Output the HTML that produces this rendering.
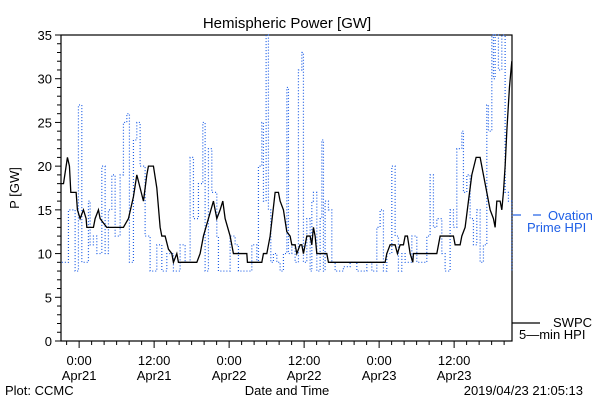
<!DOCTYPE html>
<html><head><meta charset="utf-8"><style>
html,body{margin:0;padding:0;background:#fff}
svg{display:block;font-family:"Liberation Sans",sans-serif}
</style></head><body>
<svg id="chart" width="600" height="400" viewBox="0 0 600 400">
<text x="287" y="28" text-anchor="middle" font-size="15" fill="#000">Hemispheric Power [GW]</text>
<g id="axes"></g>
<g id="series"></g>
<text transform="translate(19,188) rotate(-90)" text-anchor="middle" font-size="13">P [GW]</text>
<text x="287" y="395" text-anchor="middle" font-size="13">Date and Time</text>
<text x="5" y="395" font-size="13">Plot: CCMC</text>
<text x="583" y="395" text-anchor="end" font-size="13">2019/04/23 21:05:13</text>
<g>
<line x1="513" y1="215" x2="521" y2="215" stroke="#1e5fe6" stroke-width="1.2"/>
<line x1="533" y1="215" x2="541" y2="215" stroke="#1e5fe6" stroke-width="1.2"/>
<text x="548" y="220" font-size="13" fill="#1e5fe6">Ovation</text>
<text x="527" y="232" font-size="13" fill="#1e5fe6">Prime HPI</text>
</g>
<g>
<line x1="512" y1="323" x2="540" y2="323" stroke="#000" stroke-width="1.2"/>
<text x="553" y="327" font-size="13">SWPC</text>
<text x="519" y="339" font-size="13">5—min HPI</text>
</g>
</svg>
<script>
const swpcHours=[-2.93,-2.5,-2.08,-1.87,-1.55,-1.33,-0.48,-0.27,0.16,0.69,1.12,1.23,2.29,2.56,3.09,3.36,3.89,4.43,7.09,7.89,8.69,9.23,9.76,10.29,10.83,11.09,11.89,12.43,12.96,13.23,13.76,14.29,14.83,15.09,15.63,15.89,18.83,19.36,19.89,20.69,21.49,22.03,22.56,22.99,23.36,24.16,24.69,26.83,26.93,29.23,29.49,30.03,30.56,31.36,31.89,32.16,32.69,33.23,33.76,34.03,34.56,34.83,35.36,35.63,35.89,36.43,36.96,37.23,37.49,37.76,38.03,38.29,39.63,39.89,48.96,49.23,49.76,50.56,50.93,51.36,51.89,52.16,52.53,52.96,53.39,53.49,57.23,57.76,59.89,60.16,60.96,61.23,61.76,62.29,62.83,63.52,64.16,64.69,65.23,65.76,66.29,66.56,66.83,67.36,67.63,67.89,68.16,68.43,68.85,69.23];
const swpcValues=[18,18,20,21,20,17,17,15,14,15,14,13,13,14,15,14,13.5,13,13,14,16.5,19,17.5,16,19,20,20,17.5,13,12,12,10.5,10,9,10,9,9,10,12,14,16,14,15,16,14,12,10,10,9,9,10,10,12,17,17,16,15,12.5,12,11,11,10,11,11,10,12,12,11,13,12,10,10,10,9,9,10,11,11,10,11,11,12,12,10,9,10,10,12,12,11,11,12,13,16,19,21,21,19,17,15,14,13,16,16,15,17,20,24,29,32];
const ovationHours=[-2.77,-1.71,-0.64,-0.11,0.43,1.49,1.76,2.29,2.83,3.63,4.16,4.69,5.23,5.76,6.56,7.09,7.63,8.05,8.69,9.23,9.76,10.56,11.36,12.16,12.43,13.23,14.03,15.09,16.16,16.96,17.76,18.29,19.09,19.79,20.16,20.69,21.23,22.03,22.29,23.63,24.16,24.96,25.49,27.09,27.63,28.43,28.69,29.23,29.49,29.92,30.29,30.67,31.09,31.63,32.16,32.69,33.23,33.49,34.03,34.56,35.09,35.63,35.89,36.43,36.96,37.23,37.49,38.03,38.56,38.83,39.09,39.36,39.89,40.43,40.96,42.29,43.36,44.43,46.03,46.83,47.63,48.16,48.69,49.23,50.03,50.56,51.09,51.63,52.16,53.23,54.03,55.09,55.63,56.16,56.69,57.23,58.03,58.56,59.36,59.89,60.43,60.96,61.23,61.49,62.03,62.56,63.09,63.63,64.16,64.69,65.23,65.49,66.03,66.29,66.56,67.09,67.63,68.16,68.69,69.23];
const ovationValues=[9,15,8,27,9,16,11,12,10,20,10,15,19,12,19,25,26,9,23,25,20,12,8,8,11,8,10,8,11,9,21,14,18,25,8,22,17,12,8,8,12,11,8,8,11,9,20,25,16,35,15,9,10,9,8,10,29,10,11,9,31,33,9,14,8,16,17,8,14,23,8,16,15,9,8,8.5,9,8,9,8,13,15,8,10,20,12,8,10,9,12,9,9,12,19,13,14,10,8,15,13,22,22,24,17,19,14,11,15,9,11,27,24,35,30,35,31,35,17,16,8];
const yTicks=[0,5,10,15,20,25,30,35];
const xTickHours=[0,12,24,36,48,60];
const xTickTimes=["0:00","12:00","0:00","12:00","0:00","12:00"];
const xTickDates=["Apr21","Apr21","Apr22","Apr22","Apr23","Apr23"];

const L=61,R=512,T=35,B=341,H0=-2.9,H1=69.26,YMAX=35;
const NS="http://www.w3.org/2000/svg";
function xs(h){return L+(h-H0)/(H1-H0)*(R-L);}
function ys(v){return B-Math.min(v,YMAX)/YMAX*(B-T);}
function mk(tag,attrs,parent){const e=document.createElementNS(NS,tag);for(const k in attrs)e.setAttribute(k,attrs[k]);parent.appendChild(e);return e;}
const axes=document.getElementById('axes'),series=document.getElementById('series');
const frame=mk('rect',{x:L,y:T,width:R-L,height:B-T,fill:'none',stroke:'#000','stroke-width':1.2},axes);


for(let v=0;v<=YMAX;v++){
  const major=v%5===0;
  const t=mk('line',{x1:L-(major?6:4),x2:L,y1:ys(v),y2:ys(v),stroke:'#000'},axes);
  
  
}
yTicks.forEach(v=>{
  const t=mk('text',{x:L-9,y:ys(v)+5,'text-anchor':'end','font-size':13},axes);
  t.textContent=v;
  
  
});
for(let h=-2;h<=69;h+=2){
  const major=h%12===0;
  const t=mk('line',{x1:xs(h),x2:xs(h),y1:B,y2:B+(major?7:4),stroke:'#000'},axes);
  
  
}
xTickHours.forEach((h,i)=>{
  const a=mk('text',{x:xs(h),y:365,'text-anchor':'middle','font-size':13},axes);
  a.textContent=xTickTimes[i];
  
  
  const b=mk('text',{x:xs(h),y:380,'text-anchor':'middle','font-size':13},axes);
  b.textContent=xTickDates[i];
  
  
});
function stepPath(hs,vs){let d='';for(let i=0;i<hs.length;i++){const x=xs(hs[i]),y=ys(vs[i]);if(i===0)d='M'+x+','+y;else d+=' H'+x+' V'+y;}return d;}
const ov=mk('path',{d:stepPath(ovationHours,ovationValues),fill:'none',stroke:'#1e5fe6','stroke-width':1.2,'stroke-dasharray':'1,2'},series);


let d='';swpcHours.forEach((h,i)=>{d+=(i?' L':'M')+xs(h)+','+ys(swpcValues[i]);});
const sw=mk('path',{d:d,fill:'none',stroke:'#000','stroke-width':1.3},series);


</script>
</body></html>
